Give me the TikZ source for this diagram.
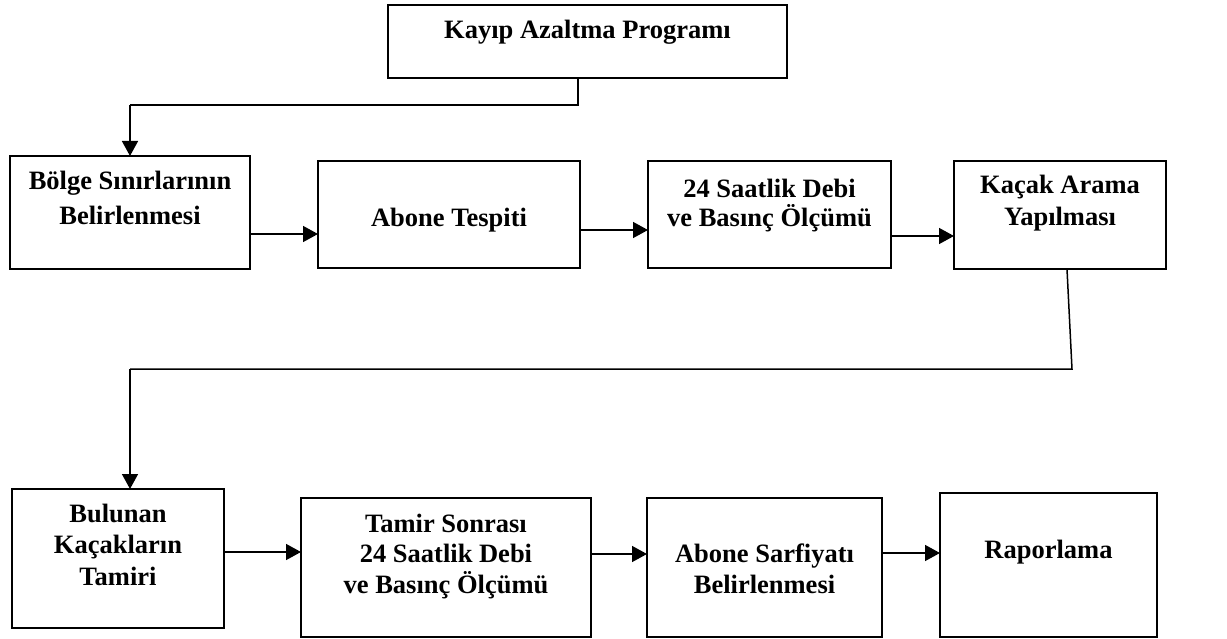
\documentclass[tikz,border=0pt]{standalone}
\usepackage{fontspec}
\setmainfont{Liberation Serif}
\usetikzlibrary{arrows.meta}
\tikzset{
  box/.style={draw, line width=1.6pt, inner sep=0pt, outer sep=0pt, fill=white},
  txt/.style={align=center, inner sep=0pt, anchor=north, font=\bfseries\fontsize{26.5}{#1}\selectfont},
  txt/.default=31,
  conn/.style={line width=1.5pt},
  arr/.style={line width=1.5pt, -{Triangle[length=15pt,width=16pt]}}
}
\newcommand{\fl}{\rule{0pt}{20pt}}
\begin{document}
\begin{tikzpicture}[x=1pt,y=-1pt]
\useasboundingbox (0,0) rectangle (1227,639);
% boxes
\node[box, minimum width=399pt, minimum height=73pt]  (top) at (587.5,41.5) {};
\node[box, minimum width=240pt, minimum height=113pt] (b1) at (130,212.5) {};
\node[box, minimum width=262pt, minimum height=107pt] (b2) at (449,214.5) {};
\node[box, minimum width=243pt, minimum height=107pt] (b3) at (769.5,214.5) {};
\node[box, minimum width=212pt, minimum height=108pt] (b4) at (1060,215) {};
\node[box, minimum width=212pt, minimum height=139pt] (b5) at (118,558.5) {};
\node[box, minimum width=290pt, minimum height=139pt] (b6) at (446,567.5) {};
\node[box, minimum width=235pt, minimum height=139pt] (b7) at (764.5,567.5) {};
\node[box, minimum width=217pt, minimum height=144pt] (b8) at (1048.5,565) {};
% texts
\node[txt] (t0) at (587.5,18) {\fl Kayıp Azaltma Programı};
\node[txt=35] (t1) at (130,169) {\fl Bölge Sınırlarının\\Belirlenmesi};
\node[txt] (t2) at (449,206) {\fl Abone Tespiti};
\node[txt=29] (t3) at (769.5,177) {\fl 24 Saatlik Debi\\ve Basınç Ölçümü};
\node[txt=32] (t4) at (1060,173) {\fl Kaçak Arama\\Yapılması};
\node[txt=31.5] (t5) at (118,502) {\fl Bulunan\\Kaçakların\\Tamiri};
\node[txt=30.5] (t6) at (446,512) {\fl Tamir Sonrası\\24 Saatlik Debi\\ve Basınç Ölçümü};
\node[txt=31] (t7) at (764.5,542) {\fl Abone Sarfiyatı\\Belirlenmesi};
\node[txt] (t8) at (1048.5,538) {\fl Raporlama};
% connectors
\coordinate (c1) at (578,105);
\coordinate (c2) at (130,105);
\draw[conn] ([xshift=-9.5pt]top.south) -- (c1) -- (c2);
\draw[arr] (c2) -- (b1.north);
\coordinate (k1) at (1072,369);
\coordinate (k2) at (130,369);
\draw[conn] ([xshift=7pt]b4.south) -- (k1) -- (k2);
\draw[arr] (k2) -- (k2 |- b5.north);
\draw[arr] (b1.east |- 0,234) -- (b2.west |- 0,234);
\draw[arr] (b2.east |- 0,230) -- (b3.west |- 0,230);
\draw[arr] (b3.east |- 0,236) -- (b4.west |- 0,236);
\draw[arr] (b5.east |- 0,552) -- (b6.west |- 0,552);
\draw[arr] (b6.east |- 0,554) -- (b7.west |- 0,554);
\draw[arr] (b7.east |- 0,553) -- (b8.west |- 0,553);
\end{tikzpicture}
\end{document}
